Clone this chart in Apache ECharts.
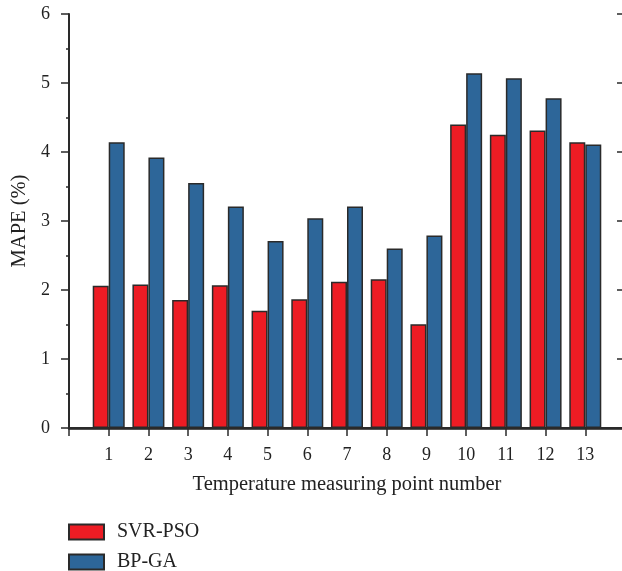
<!DOCTYPE html>
<html>
<head>
<meta charset="utf-8">
<script src="https://cdn.jsdelivr.net/npm/echarts@6/dist/echarts.min.js"></script>
<style>html,body{margin:0;padding:0;background:#fff}#c{width:622px;height:571px}</style>
</head>
<body>
<div id="c"></div>
<script>
const categories = ['', '1', '2', '3', '4', '5', '6', '7', '8', '9', '10', '11', '12', '13', ''];
const svrPso = [null, 2.06, 2.08, 1.855, 2.07, 1.70, 1.865, 2.12, 2.155, 1.505, 4.40, 4.25, 4.31, 4.14, null];
const bpGa = [null, 4.14, 3.92, 3.55, 3.21, 2.71, 3.04, 3.21, 2.60, 2.79, 5.14, 5.07, 4.78, 4.11, null];
const yTicks = { min: 0, max: 6, interval: 1 };

const chart = echarts.init(document.getElementById('c'), null, { renderer: 'canvas' });
const font = '"Liberation Serif", "DejaVu Serif", serif';
const axisLineStyle = { color: '#2a2a2a', width: 2 };
const tickStyle = { color: '#2a2a2a', width: 1.5 };
chart.setOption({
  animation: false,
  textStyle: { fontFamily: font },
  grid: { left: 69, width: 556, top: 14, height: 414, outerBoundsMode: 'none', containLabel: false },
  legend: {
    orient: 'vertical', left: 68, top: 522, padding: 0, height: 60,
    icon: 'rect',
    itemWidth: 35, itemHeight: 15, itemGap: 10,
    textStyle: { fontFamily: font, fontSize: 20, color: '#222', padding: [0, 0, 0, 8] },
    data: ['SVR-PSO', 'BP-GA']
  },
  xAxis: [{
    type: 'category', data: categories, boundaryGap: false, position: 'bottom',
    axisLine: { lineStyle: { color: '#1a1a1a', width: 2.5 } },
    axisTick: { show: true, inside: false, length: 8, interval: 0, lineStyle: tickStyle },
    axisLabel: { show: true, interval: 0, margin: 18, fontSize: 18, color: '#222', fontFamily: font },
    name: 'Temperature measuring point number', nameLocation: 'middle', nameGap: 46,
    nameTextStyle: { fontSize: 20.5, color: '#222', fontFamily: font },
    splitLine: { show: false }
  }, {
    type: 'category', data: categories, boundaryGap: false, position: 'top',
    axisLine: { lineStyle: axisLineStyle },
    axisTick: { show: true, inside: true, length: 8, interval: 0, lineStyle: tickStyle },
    axisLabel: { show: false }, splitLine: { show: false }
  }],
  yAxis: [{
    type: 'value', min: yTicks.min, max: yTicks.max, interval: yTicks.interval, position: 'left',
    axisLine: { show: true, lineStyle: axisLineStyle },
    axisTick: { show: true, inside: false, length: 8, lineStyle: tickStyle },
    minorTick: { show: true, splitNumber: 2, length: 3, lineStyle: tickStyle },
    axisLabel: { margin: 19, fontSize: 18, color: '#222', fontFamily: font },
    splitLine: { show: false },
    name: 'MAPE (%)', nameLocation: 'middle', nameGap: 39,
    nameTextStyle: { fontSize: 20.5, color: '#222', fontFamily: font }
  }, {
    type: 'value', min: yTicks.min, max: yTicks.max, interval: yTicks.interval, position: 'right',
    axisLine: { show: true, lineStyle: axisLineStyle },
    axisTick: { show: true, inside: true, length: 8, lineStyle: tickStyle },
    minorTick: { show: true, splitNumber: 2, length: 3, lineStyle: tickStyle },
    axisLabel: { show: false }, splitLine: { show: false }
  }],
  series: [{
    name: 'SVR-PSO', type: 'bar', data: svrPso, barWidth: 16, barGap: '0%',
    itemStyle: { color: '#ED1C24', borderColor: '#2a2a2a', borderWidth: 1.5 }
  }, {
    name: 'BP-GA', type: 'bar', data: bpGa, barWidth: 16, barGap: '0%',
    itemStyle: { color: '#2D6699', borderColor: '#2a2a2a', borderWidth: 1.5 }
  }]
});
</script>
</body>
</html>
